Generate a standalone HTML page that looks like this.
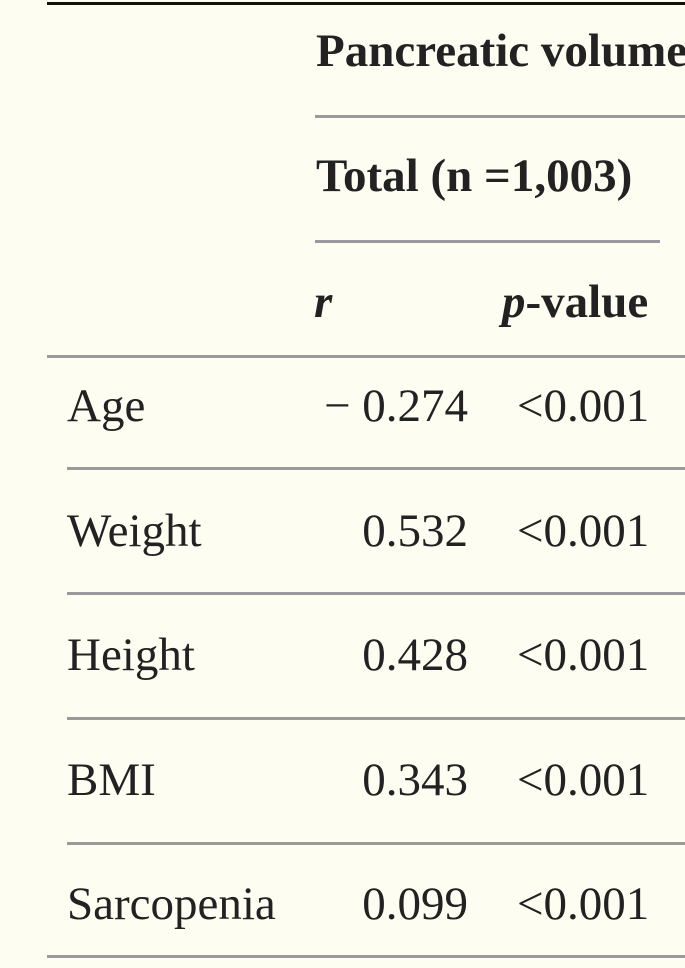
<!DOCTYPE html>
<html><head><meta charset="utf-8"><style>
html,body{margin:0;padding:0}
body{width:685px;height:968px;background:#fefdf2;position:relative;overflow:hidden;font-family:"Liberation Serif",serif;color:#222}
.t{position:absolute;font-size:47px;line-height:47px;white-space:nowrap}
.b{font-weight:bold}
.r{text-align:right}
.l{position:absolute;height:3px;background:#9a9a9a}
</style></head><body>
<div class="l" style="left:47px;top:2px;width:638px;background:#111"></div>
<div class="t b" style="left:316px;top:28px">Pancreatic volume</div>
<div class="l" style="left:315px;top:115px;width:370px"></div>
<div class="t b" style="left:316px;top:153px">Total (n =1,003)</div>
<div class="l" style="left:315px;top:240px;width:345px"></div>
<div class="t b" style="left:314px;top:279px"><i>r</i></div>
<div class="t b" style="left:502px;top:279px"><i>p</i>-value</div>
<div class="l" style="left:47px;top:355px;width:638px"></div>
<div id="rows"></div>
<div class="l" style="left:47px;top:955px;width:638px"></div>
<script>
const labels=["Age","Weight","Height","BMI","Sarcopenia"];
const rVals=["\u2212 0.274","0.532","0.428","0.343","0.099"];
const pVals=["<0.001","<0.001","<0.001","<0.001","<0.001"];
const c=document.body;
labels.forEach((lab,i)=>{
  const base=422+i*124.5;
  const a=document.createElement('div');a.className='t';a.style.left='67px';a.style.top=(base-39)+'px';a.textContent=lab;
  
  
  c.appendChild(a);
  const r=document.createElement('div');r.className='t r';r.style.right=(685-468)+'px';r.style.top=(base-39)+'px';r.textContent=rVals[i];
  
  
  c.appendChild(r);
  const p=document.createElement('div');p.className='t';p.style.left='517px';p.style.top=(base-39)+'px';p.textContent=pVals[i];
  
  
  c.appendChild(p);
  if(i<labels.length-1){
    const l=document.createElement('div');l.className='l';l.style.left='67px';l.style.width='618px';l.style.top=(467+i*125)+'px';
    
    
    c.appendChild(l);
  }
});
</script>
</body></html>
